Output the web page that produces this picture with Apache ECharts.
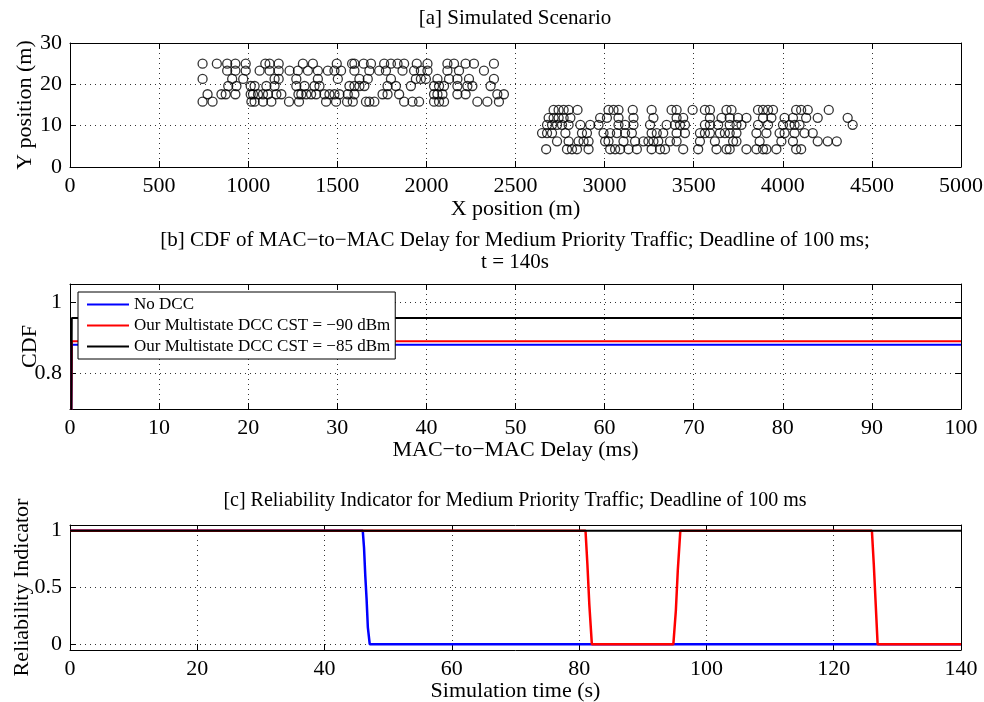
<!DOCTYPE html>
<html>
<head>
<meta charset="utf-8">
<script src="https://cdn.jsdelivr.net/npm/echarts@6/dist/echarts.min.js"></script>
<style>
  html, body { margin: 0; padding: 0; background: #fff; }
  #chart { width: 984px; height: 702px; }
</style>
</head>
<body>
<div id="chart"></div>
<script>
// ---- [a] vehicle positions: one y value per lane, x positions (m) per lane ----
const laneY = [25, 23.3, 21.3, 19.6, 17.6, 15.8, 13.8, 11.9, 10.2, 8.2, 6.2, 4.3];
const lane1X = [744, 824, 882, 928, 986, 1096, 1120, 1171, 1307, 1363, 1497, 1583, 1596, 1648, 1689, 1763, 1801, 1838, 1875, 1946, 2006, 2118, 2155, 2220, 2267, 2379];
const lane2X = [882, 928, 986, 1064, 1120, 1171, 1232, 1279, 1335, 1391, 1447, 1484, 1521, 1596, 1680, 1735, 1773, 1866, 1931, 1969, 2006, 2118, 2183, 2323];
const lane3X = [744, 910, 972, 1148, 1171, 1270, 1391, 1503, 1624, 1671, 1801, 1941, 1969, 1997, 2062, 2127, 2174, 2239, 2379];
const lane4X = [888, 934, 1014, 1036, 1102, 1148, 1270, 1316, 1372, 1400, 1568, 1596, 1624, 1652, 1782, 1829, 1913, 2043, 2071, 2099, 2174, 2230, 2258, 2360];
const lane5X = [772, 850, 874, 928, 1014, 1027, 1055, 1083, 1111, 1158, 1186, 1282, 1298, 1326, 1353, 1381, 1428, 1456, 1484, 1512, 1559, 1596, 1754, 1782, 1847, 2043, 2062, 2090, 2174, 2220, 2398, 2435];
const lane6X = [744, 800, 1018, 1036, 1083, 1130, 1229, 1285, 1437, 1493, 1555, 1587, 1661, 1680, 1708, 1875, 1922, 1959, 2043, 2071, 2099, 2286, 2342, 2407];
const lane7X = [2714, 2742, 2770, 2798, 2848, 3022, 3050, 3078, 3158, 3264, 3376, 3404, 3494, 3563, 3591, 3684, 3712, 3861, 3889, 3917, 3945, 4075, 4103, 4140, 4258];
const lane8X = [2686, 2714, 2742, 2770, 2808, 2975, 3013, 3078, 3162, 3274, 3404, 3441, 3591, 3656, 3702, 3749, 3796, 3889, 3936, 4010, 4057, 4131, 4196, 4364];
const lane9X = [2677, 2705, 2733, 2761, 2798, 2864, 2919, 2966, 3078, 3115, 3162, 3255, 3348, 3395, 3423, 3451, 3563, 3591, 3637, 3702, 3740, 3768, 3861, 3917, 4001, 4038, 4066, 4094, 4392];
const lane10X = [2649, 2677, 2705, 2780, 2873, 2901, 2994, 3031, 3069, 3115, 3153, 3264, 3293, 3329, 3404, 3451, 3535, 3563, 3591, 3647, 3675, 3702, 3740, 3852, 3908, 3982, 4010, 4066, 4122, 4168];
const lane11X = [2733, 2798, 2854, 2882, 2910, 3003, 3022, 3106, 3171, 3218, 3246, 3274, 3301, 3367, 3404, 3535, 3619, 3721, 3740, 3870, 3992, 4057, 4196, 4252, 4303];
const lane12X = [2672, 2789, 2817, 2845, 2910, 3031, 3059, 3087, 3134, 3181, 3264, 3311, 3339, 3441, 3525, 3628, 3684, 3702, 3796, 3852, 3889, 3908, 3964, 4075, 4103];
const laneXs = [lane1X, lane2X, lane3X, lane4X, lane5X, lane6X, lane7X, lane8X, lane9X, lane10X, lane11X, lane12X];

// ---- [b] CDF of MAC-to-MAC delay (ms) ----
const cdfDelay = [0, 0.2, 100];
const cdfNoDcc = [0, 0.88, 0.88];
const cdfCst90 = [0, 0.89, 0.89];
const cdfCst85 = [0, 0.955, 0.955];

// ---- [c] reliability indicator over simulation time (s) ----
const relNoDccT = [0, 46.0, 46.2, 46.4, 46.6, 46.8, 47.1, 140];
const relNoDccV = [1, 1, 0.85, 0.6, 0.4, 0.15, 0, 0];
const relCst90T = [0, 81.0, 81.3, 81.6, 82.0, 94.8, 95.2, 95.5, 95.9, 126.0, 126.3, 126.6, 126.9, 140];
const relCst90V = [1, 1, 0.7, 0.35, 0, 0, 0.3, 0.65, 1, 1, 0.7, 0.35, 0, 0];
const relCst85T = [0, 140];
const relCst85V = [1, 1];

const seriesNames = ['No DCC', 'Our Multistate DCC CST = \u221290 dBm', 'Our Multistate DCC CST = \u221285 dBm'];
const seriesColors = ['#0000ff', '#ff0000', '#000000'];

const FONT = 'Liberation Serif';
const zip = (xs, ys) => xs.map((x, i) => [x, ys[i]]);

const positions = [];
laneXs.forEach((xs, i) => xs.forEach(x => positions.push([x, laneY[i]])));

const gridLine = { show: true, lineStyle: { color: '#333', type: [1, 4], width: 1 } };
const tick = { show: true, inside: true, length: 6, lineStyle: { color: '#000', width: 1 } };
const line = { show: true, onZero: false, lineStyle: { color: '#000', width: 1 } };
const labelStyle = { fontFamily: FONT, fontSize: 22, color: '#000', formatter: v => String(v) };
const nameStyle = { fontFamily: FONT, fontSize: 22, color: '#000' };

function xMain(g, min, max, interval, name, nameGap) {
  return {
    type: 'value', gridIndex: g, min, max, interval, position: 'bottom',
    name, nameLocation: 'middle', nameGap, nameMoveOverlap: false, nameTextStyle: nameStyle,
    axisLine: line, axisTick: tick,
    axisLabel: Object.assign({ margin: 8 }, labelStyle),
    splitLine: gridLine
  };
}
function xMirror(g, min, max, interval) {
  return {
    type: 'value', gridIndex: g, min, max, interval, position: 'top',
    axisLine: line, axisTick: tick, axisLabel: { show: false }, splitLine: { show: false }
  };
}
function yMain(g, min, max, extra, name, nameGap) {
  return Object.assign({
    type: 'value', gridIndex: g, min, max, position: 'left',
    name, nameLocation: 'middle', nameGap, nameMoveOverlap: false, nameTextStyle: nameStyle,
    axisLine: line, axisTick: Object.assign({}, tick),
    axisLabel: Object.assign({ margin: 8 }, labelStyle),
    splitLine: gridLine
  }, extra);
}
function yMirror(g, min, max, extra) {
  return Object.assign({
    type: 'value', gridIndex: g, min, max, position: 'right',
    axisLine: line, axisTick: Object.assign({}, tick), axisLabel: { show: false }, splitLine: { show: false }
  }, extra);
}

const cdfTicks = [0.8, 1];
const relTicks = [0, 0.5, 1];

const chart = echarts.init(document.getElementById('chart'), null, { renderer: 'canvas' });
chart.setOption({
  backgroundColor: '#fff',
  animation: false,
  textStyle: { fontFamily: FONT },
  grid: [
    { left: 70, right: 23, top: 43, height: 124, containLabel: false, outerBoundsMode: 'none' },
    { left: 70, right: 23, top: 284, height: 125, containLabel: false, outerBoundsMode: 'none' },
    { left: 70, right: 23, top: 525, height: 125, containLabel: false, outerBoundsMode: 'none' }
  ],
  graphic: [
    { type: 'text', x: 515, y: 18, style: { text: '[a] Simulated Scenario', fontFamily: FONT, fontSize: 21, fill: '#000', align: 'center', verticalAlign: 'middle' } },
    { type: 'text', x: 515, y: 240, style: { text: '[b] CDF of MAC\u2212to\u2212MAC Delay for Medium Priority Traffic; Deadline of 100 ms;', fontFamily: FONT, fontSize: 21, fill: '#000', align: 'center', verticalAlign: 'middle' } },
    { type: 'text', x: 515, y: 262, style: { text: 't = 140s', fontFamily: FONT, fontSize: 21, fill: '#000', align: 'center', verticalAlign: 'middle' } },
    { type: 'text', x: 515, y: 501, style: { text: '[c] Reliability Indicator for Medium Priority Traffic; Deadline of 100 ms', fontFamily: FONT, fontSize: 20, fill: '#000', align: 'center', verticalAlign: 'middle' } }
  ],
  xAxis: [
    xMain(0, 0, 5000, 500, 'X position (m)', 31),
    xMain(1, 0, 100, 10, 'MAC\u2212to\u2212MAC Delay (ms)', 30),
    xMain(2, 0, 140, 20, 'Simulation time (s)', 30),
    xMirror(0, 0, 5000, 500),
    xMirror(1, 0, 100, 10),
    xMirror(2, 0, 140, 20)
  ],
  yAxis: [
    yMain(0, 0, 30, { interval: 10 }, 'Y position (m)', 34),
    yMain(1, 0.7, 1.05, {
      axisTick: Object.assign({ customValues: cdfTicks }, tick),
      axisLabel: Object.assign({ margin: 8, customValues: cdfTicks }, labelStyle)
    }, 'CDF', 29),
    yMain(2, -0.05, 1.05, {
      axisTick: Object.assign({ customValues: relTicks }, tick),
      axisLabel: Object.assign({ margin: 8, customValues: relTicks }, labelStyle)
    }, 'Reliability Indicator', 37),
    yMirror(0, 0, 30, { interval: 10 }),
    yMirror(1, 0.7, 1.05, { axisTick: Object.assign({ customValues: cdfTicks }, tick) }),
    yMirror(2, -0.05, 1.05, { axisTick: Object.assign({ customValues: relTicks }, tick) })
  ],
  legend: {
    orient: 'vertical', left: 78, top: 292,
    itemWidth: 42, itemHeight: 14, itemGap: 4,
    padding: [4, 5, 4, 8],
    backgroundColor: '#fff', borderColor: '#000', borderWidth: 1,
    itemStyle: { opacity: 0 },
    textStyle: { fontFamily: FONT, fontSize: 17, lineHeight: 16, color: '#000' },
    data: seriesNames
  },
  series: [
    {
      type: 'scatter', xAxisIndex: 0, yAxisIndex: 0, data: positions,
      symbol: 'circle', symbolSize: 9,
      itemStyle: { color: 'rgba(0,0,0,0)', borderColor: '#000', borderWidth: 1.3 }
    },
    ...[cdfNoDcc, cdfCst90, cdfCst85].map((vals, i) => ({
      type: 'line', name: seriesNames[i], xAxisIndex: 1, yAxisIndex: 1,
      data: zip(cdfDelay, vals), symbol: 'none', clip: true,
      color: seriesColors[i], lineStyle: { color: seriesColors[i], width: 2 }
    })),
    ...[[relNoDccT, relNoDccV], [relCst90T, relCst90V], [relCst85T, relCst85V]].map(([t, v], i) => ({
      type: 'line', name: seriesNames[i], xAxisIndex: 2, yAxisIndex: 2,
      data: zip(t, v), symbol: 'none', clip: true,
      color: seriesColors[i], lineStyle: { color: seriesColors[i], width: i === 2 ? 2 : 2.5 }
    }))
  ]
});
</script>
</body>
</html>
